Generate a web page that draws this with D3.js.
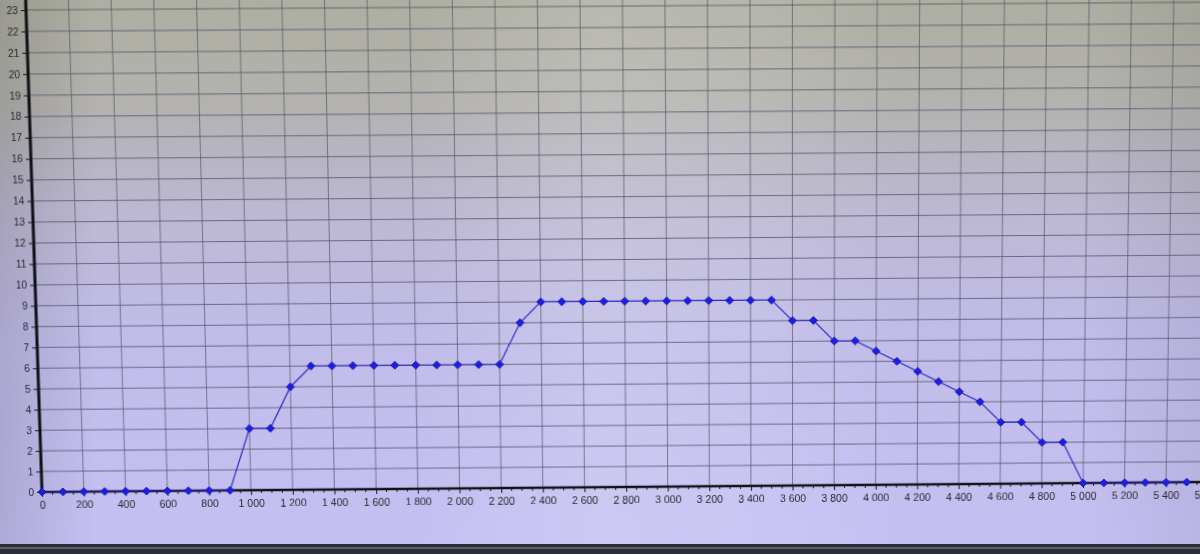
<!DOCTYPE html>
<html>
<head>
<meta charset="utf-8">
<script src="https://cdn.jsdelivr.net/npm/d3@7"></script>
<style>
html,body{margin:0;padding:0;width:1200px;height:554px;overflow:hidden;background:#c2bdee}
#bg{position:absolute;left:0;top:0}
#chart{position:absolute;left:0;top:0;transform-origin:0 0}
text{font-family:"Liberation Sans",Arial,sans-serif;fill:#2a2a32}
</style>
</head>
<body>
<svg id="bg" width="1200" height="554"></svg>
<svg id="chart" width="1280" height="554"></svg>
<script>
// ---- data ----
const distances = [0,100,200,300,400,500,600,700,800,900,
  1000,1100,1200,1300,1400,1500,1600,1700,1800,1900,
  2000,2100,2200,2300,2400,2500,2600,2700,2800,2900,
  3000,3100,3200,3300,3400,3500,3600,3700,3800,3900,
  4000,4100,4200,4300,4400,4500,4600,4700,4800,4900,
  5000,5100,5200,5300,5400,5500];
const values = [0,0,0,0,0,0,0,0,0,0,
  3,3,5,6,6,6,6,6,6,6,
  6,6,6,8,9,9,9,9,9,9,
  9,9,9,9,9,9,8,8,7,7,
  6.5,6,5.5,5,4.5,4,3,3,2,2,
  0,0,0,0,0,0];
const xTicks = [0,200,400,600,800,1000,1200,1400,1600,1800,2000,2200,2400,2600,2800,3000,3200,3400,3600,3800,4000,4200,4400,4600,4800,5000,5200,5400,5600];
const yTicks = [0,1,2,3,4,5,6,7,8,9,10,11,12,13,14,15,16,17,18,19,20,21,22,23];

// ---- background (photo of a screen) ----
const bg = d3.select("#bg");
const defs = bg.append("defs");
const vg = defs.append("linearGradient").attr("id","vg").attr("x1",0).attr("y1",0).attr("x2",0).attr("y2",1);
[[0,"#aeaea2"],[0.18,"#b3b2ae"],[0.38,"#bcb8d2"],[0.6,"#c1bce8"],[1,"#c5c0f3"]].forEach(s=>vg.append("stop").attr("offset",s[0]).attr("stop-color",s[1]));
const hg = defs.append("linearGradient").attr("id","hg").attr("x1",0).attr("y1",0).attr("x2",1).attr("y2",0);
[[0,0],[0.35,0],[0.5,0.14],[0.62,0.1],[0.75,0],[1,0]].forEach(s=>hg.append("stop").attr("offset",s[0]).attr("stop-color","#ffffff").attr("stop-opacity",s[1]));
const eg = defs.append("linearGradient").attr("id","eg").attr("x1",0).attr("y1",0).attr("x2",1).attr("y2",0);
[[0,0.12],[0.08,0],[0.9,0],[1,0.06]].forEach(s=>eg.append("stop").attr("offset",s[0]).attr("stop-color","#000000").attr("stop-opacity",s[1]));
bg.append("rect").attr("width",1200).attr("height",554).attr("fill","url(#vg)");
bg.append("rect").attr("width",1200).attr("height",554).attr("fill","url(#hg)");
bg.append("rect").attr("width",1200).attr("height",554).attr("fill","url(#eg)");
bg.append("rect").attr("y",544).attr("width",1200).attr("height",10).attr("fill","#2c2c38");
bg.append("rect").attr("y",547).attr("width",1200).attr("height",2).attr("fill","#5c5c70");

// ---- chart (ideal, flat coordinates) ----
const X0 = 42, X5000 = 1083, YB = 492, YT = 10;
const x = d3.scaleLinear().domain([0,5000]).range([X0,X5000]);
const y = d3.scaleLinear().domain([0,23]).range([YB,YT]);
const xMax = 5700;

const svg = d3.select("#chart");
const g = svg.append("g");

// grid
g.append("g").selectAll("line").data(yTicks.filter(d=>d>0)).join("line")
  .attr("x1",X0).attr("x2",x(xMax)).attr("y1",d=>y(d)).attr("y2",d=>y(d))
  .attr("stroke","#55556a").attr("stroke-opacity",0.8).attr("stroke-width",1);
g.append("g").selectAll("line").data(xTicks.filter(d=>d>0)).join("line")
  .attr("x1",d=>x(d)).attr("x2",d=>x(d)).attr("y1",YB).attr("y2",0)
  .attr("stroke","#55556a").attr("stroke-opacity",0.7).attr("stroke-width",1);

// x axis
const fmt = d3.formatLocale({decimal:",",thousands:" ",grouping:[3],currency:["",""]}).format(",d");
const xAxis = d3.axisBottom(x).tickValues(xTicks).tickFormat(fmt).tickSize(5).tickPadding(5);
const xa = g.append("g").attr("transform",`translate(0,${YB})`).call(xAxis);
xa.select(".domain").remove();
xa.selectAll(".tick line").attr("stroke","#1a1a22");
xa.selectAll(".tick text").attr("font-size","10.5px").attr("font-family","Liberation Sans, Arial, sans-serif").attr("fill","#2a2a32");
// minor x ticks
const minor = d3.range(0, xMax+1, 50).filter(d=>d%200!==0);
g.append("g").selectAll("line").data(minor).join("line")
  .attr("x1",d=>x(d)).attr("x2",d=>x(d)).attr("y1",YB).attr("y2",YB+3)
  .attr("stroke","#1a1a22").attr("stroke-width",1);
g.append("line").attr("x1",X0).attr("x2",x(xMax)).attr("y1",YB).attr("y2",YB)
  .attr("stroke","#111118").attr("stroke-width",2.5);

// y axis
const yAxis = d3.axisLeft(y).tickValues(yTicks).tickSize(5).tickPadding(3);
const ya = g.append("g").attr("transform",`translate(${X0},0)`).call(yAxis);
ya.select(".domain").remove();
ya.selectAll(".tick line").attr("stroke","#1a1a22");
ya.selectAll(".tick text").attr("font-size","10px").attr("font-family","Liberation Sans, Arial, sans-serif").attr("fill","#2a2a32");
g.append("line").attr("x1",X0).attr("x2",X0).attr("y1",YB+1).attr("y2",0)
  .attr("stroke","#111118").attr("stroke-width",3);

// series
const pts = distances.map((d,i)=>[d, values[i]]);
g.append("path").datum(pts)
  .attr("d", d3.line().x(d=>x(d[0])).y(d=>y(d[1])))
  .attr("fill","none").attr("stroke","#2b2bc8").attr("stroke-width",1.2);
const diamond = "M0,-4L4,0L0,4L-4,0Z";
g.append("g").selectAll("path").data(pts).join("path")
  .attr("transform",d=>`translate(${x(d[0])},${y(d[1])})`)
  .attr("d",diamond).attr("fill","#1c1cec").attr("stroke","#10108a").attr("stroke-width",0.8);

// ---- perspective of the photo: homography from flat chart to screen ----
function homography(src, dst){
  const A=[], b=[];
  for(let i=0;i<4;i++){
    const [sx,sy]=src[i], [dx,dy]=dst[i];
    A.push([sx,sy,1,0,0,0,-sx*dx,-sy*dx]); b.push(dx);
    A.push([0,0,0,sx,sy,1,-sx*dy,-sy*dy]); b.push(dy);
  }
  const n=8;
  for(let c=0;c<n;c++){
    let p=c; for(let r=c+1;r<n;r++) if(Math.abs(A[r][c])>Math.abs(A[p][c])) p=r;
    [A[c],A[p]]=[A[p],A[c]]; [b[c],b[p]]=[b[p],b[c]];
    for(let r=0;r<n;r++){ if(r===c) continue;
      const f=A[r][c]/A[c][c];
      for(let k=c;k<n;k++) A[r][k]-=f*A[c][k];
      b[r]-=f*b[c];
    }
  }
  return b.map((v,i)=>v/A[i][i]);
}
const h = homography(
  [[X0,YB],[X5000,YB],[X0,YT],[X5000,YT]],
  [[42,492],[1083,483],[26,10],[1089,3]]
);
const f = v=>v.toFixed(12);
document.getElementById("chart").style.transform =
  `matrix3d(${f(h[0])},${f(h[3])},0,${f(h[6])},${f(h[1])},${f(h[4])},0,${f(h[7])},0,0,1,0,${f(h[2])},${f(h[5])},0,1)`;
</script>
</body>
</html>
